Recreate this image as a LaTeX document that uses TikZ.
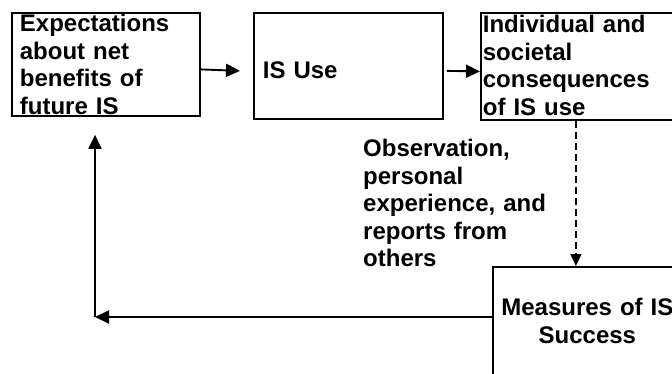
\documentclass[tikz,border=0pt]{standalone}
\usepackage{fontspec}
\setmainfont{Liberation Sans}
\usetikzlibrary{arrows.meta,positioning}

\begin{document}
\begin{tikzpicture}[
    x=1pt, y=-1pt,
    box/.style={draw, line width=1.8pt, anchor=north west, align=left, inner ysep=0pt, font=\bfseries\fontsize{24}{27.5}\selectfont},
    arr/.style={-{Triangle[length=14pt,width=13pt]}, line width=1.9pt},
    dasharr/.style={-{Triangle[length=12pt,width=11pt]}, line width=1.7pt, dash pattern=on 7pt off 4pt},
    lbl/.style={anchor=north west, align=left, inner sep=0pt, text width=190pt, font=\bfseries\fontsize{24}{27.5}\selectfont}
]
\useasboundingbox (0,0) rectangle (672,374);
\clip (0,0) rectangle (672,374);

\node[box, inner xsep=8pt, text width=172pt, text height=19pt, text depth=84pt] (exp) at (11,12) {Expectations\\about net\\benefits of\\future IS};
\node[box, inner xsep=9pt, text width=171pt, text height=66pt, text depth=40pt] (use) at (253,12) {IS Use};
\node[box, inner xsep=2pt, text width=196pt, text height=19.7pt, text depth=87.3pt] (cons) at (480,12) {Individual and\\societal\\consequences\\of IS use};
\node[box, align=center, inner xsep=2pt, text width=185pt, text height=49pt, text depth=60pt] (meas) at (492,266) {Measures of IS\\Success};
\node[lbl] (obs) at (363,139) {Observation,\\personal\\experience, and\\reports from\\others};
\coordinate (turn) at (95,317);

\draw[arr] ([yshift=-5pt]exp.east) -- ([xshift=-13pt,yshift=-5pt]use.west);
\draw[arr] ([xshift=3pt,yshift=-5pt]use.east) -- ([yshift=-5pt]cons.west);
\draw[dasharr] ([xshift=-5pt]cons.south) -- ([xshift=-5pt]cons.south |- meas.north);
\draw[arr] (meas.west |- turn) -- (turn);
\draw[arr] (turn) -- ([yshift=-18pt]exp.south -| turn);
\end{tikzpicture}
\end{document}
